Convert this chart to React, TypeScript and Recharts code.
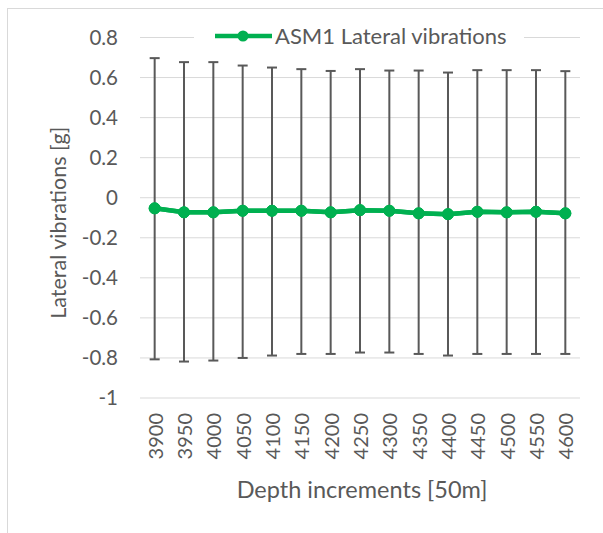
import React from 'react';
import { LineChart, Line, XAxis, YAxis, CartesianGrid, ErrorBar, Legend, Label } from 'recharts';

const depths = ['3900', '3950', '4000', '4050', '4100', '4150', '4200', '4250', '4300', '4350', '4400', '4450', '4500', '4550', '4600'];
// mean lateral vibration per depth
const means = [-0.053, -0.073, -0.073, -0.065, -0.065, -0.065, -0.073, -0.062, -0.065, -0.078, -0.082, -0.07, -0.073, -0.07, -0.078];
// top / bottom of the error bars
const upper = [0.697, 0.677, 0.677, 0.66, 0.65, 0.642, 0.633, 0.642, 0.635, 0.635, 0.625, 0.637, 0.637, 0.637, 0.632];
const lower = [-0.807, -0.818, -0.813, -0.8, -0.788, -0.78, -0.78, -0.773, -0.773, -0.78, -0.788, -0.78, -0.78, -0.78, -0.78];
const yTicks = [-1, -0.8, -0.6, -0.4, -0.2, 0, 0.2, 0.4, 0.6, 0.8];

const seriesName = 'ASM1 Lateral vibrations';
const GREEN = '#00B050';
const TEXT = '#595959';

const data = depths.map((d, i) => ({
  depth: d,
  value: means[i],
  err: [means[i] - lower[i], upper[i] - means[i]],
}));

const DepthTick = (props: any) => {
  const { x, y, payload } = props;
  return (
    <text
      x={x}
      y={y}
      transform={`rotate(-90, ${x}, ${y})`}
      textAnchor="end"
      dominantBaseline="central"
      fill={TEXT}
      fontSize={20}
    >
      {payload.value}
    </text>
  );
};

const LegendBox = () => (
  <div style={{ background: '#fff', display: 'flex', alignItems: 'center', height: 26, paddingLeft: 21 }}>
    <svg width={58} height={20} style={{ display: 'block' }}>
      <line x1={0} y1={10} x2={57} y2={10} stroke={GREEN} strokeWidth={4.5} />
      <circle cx={28} cy={10} r={5.5} fill={GREEN} />
    </svg>
    <span style={{ marginLeft: 2, fontSize: 22, color: TEXT, lineHeight: '26px', whiteSpace: 'nowrap' }}>{seriesName}</span>
  </div>
);

const App: React.FC = () => {
  return (
    <div style={{ position: 'absolute', left: 0, top: 0, width: 603, height: 533, background: '#fff', fontFamily: 'Lato, sans-serif', overflow: 'hidden' }}>
      <div style={{ position: 'absolute', left: 7, top: 8, width: 620, height: 560, borderLeft: '1px solid #d9d9d9', borderTop: '1px solid #d9d9d9' }} />
      <div style={{ position: 'absolute', left: 0, top: 0 }}>
        <LineChart width={603} height={533} data={data} margin={{ top: 37.5, right: 23, bottom: 0, left: 0 }}>
          <CartesianGrid horizontal vertical={false} stroke="#d9d9d9" strokeWidth={1} />
          <XAxis
            dataKey="depth"
            height={135}
            axisLine={false}
            tickLine={false}
            tickSize={0}
            tickMargin={15}
            interval={0}
            padding={{ left: 14.67, right: 14.67 }}
            tick={<DepthTick />}
          >
            <Label
              content={(p: any) => {
                const vb = p.viewBox;
                return (
                  <text x={vb.x + vb.width / 2 + 2} y={489} textAnchor="middle" dominantBaseline="central" fill={TEXT} fontSize={23.5}>
                    Depth increments [50m]
                  </text>
                );
              }}
            />
          </XAxis>
          <YAxis
            width={140}
            domain={[-1, 0.8]}
            ticks={yTicks}
            interval={0}
            axisLine={false}
            tickLine={false}
            tickSize={0}
            tickMargin={22}
            tick={{ fill: TEXT, fontSize: 20.5 }}
            tickFormatter={(v: number) => String(v)}
          >
            <Label
              content={(p: any) => {
                const vb = p.viewBox;
                const cy = vb.y + vb.height / 2 + 5;
                return (
                  <text x={58} y={cy} transform={`rotate(-90, 58, ${cy})`} textAnchor="middle" dominantBaseline="central" fill={TEXT} fontSize={21.5}>
                    Lateral vibrations [g]
                  </text>
                );
              }}
            />
          </YAxis>
          <Legend
            layout="horizontal"
            verticalAlign="middle"
            align="center"
            content={() => <LegendBox />}
            wrapperStyle={{ left: 194, top: 23, width: 330, height: 26 }}
          />
          <Line
            dataKey="value"
            name={seriesName}
            stroke={GREEN}
            strokeWidth={4.5}
            dot={{ r: 5.5, fill: GREEN, stroke: GREEN, strokeWidth: 1 }}
            isAnimationActive={false}
          >
            <ErrorBar dataKey="err" direction="y" width={5} strokeWidth={2} stroke="#595959" isAnimationActive={false} />
          </Line>
          <Line
            dataKey="value"
            legendType="none"
            stroke={GREEN}
            strokeWidth={4.5}
            dot={{ r: 5.5, fill: GREEN, stroke: GREEN, strokeWidth: 1 }}
            isAnimationActive={false}
          />
        </LineChart>
      </div>
    </div>
  );
};

export default App;
